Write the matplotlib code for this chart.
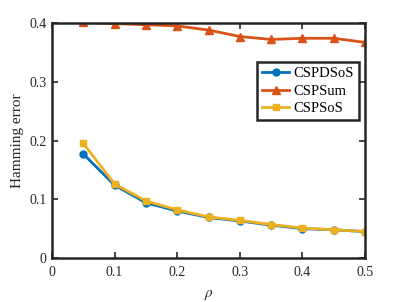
import matplotlib
matplotlib.use("Agg")
import matplotlib.pyplot as plt

rho = [0.05, 0.1, 0.15, 0.2, 0.25, 0.3, 0.35, 0.4, 0.45, 0.5]
cspdsos = [0.177, 0.124, 0.094, 0.080, 0.069, 0.063, 0.056, 0.050, 0.048, 0.045]
cspsum = [0.401, 0.399, 0.397, 0.395, 0.388, 0.377, 0.372, 0.374, 0.374, 0.367]
cspsos = [0.195, 0.126, 0.097, 0.082, 0.070, 0.064, 0.057, 0.051, 0.048, 0.045]
xticks = [0, 0.1, 0.2, 0.3, 0.4, 0.5]
yticks = [0, 0.1, 0.2, 0.3, 0.4]

plt.rcParams['font.family'] = ['Liberation Serif', 'DejaVu Serif']
plt.rcParams['mathtext.fontset'] = 'stix'

fig = plt.figure(figsize=(4.03, 3.02), dpi=100)
ax = fig.add_axes([52/403, 1-258/302, (365-52)/403, (258-23)/302])

ax.plot(rho, cspdsos, color='#0072BD', lw=2, marker='o', ms=5, mfc='#0072BD', label='CSPDSoS')
ax.plot(rho, cspsum, color='#D95319', lw=2, marker='^', ms=6, mfc='#D95319', label='CSPSum')
ax.plot(rho, cspsos, color='#EDB120', lw=2, marker='s', ms=5, mfc='#EDB120', label='CSPSoS')

ax.set_xlim(0, 0.5)
ax.set_ylim(0, 0.4)
ax.set_xticks(xticks)
ax.set_yticks(yticks)
ax.set_xticklabels([f'{t:g}' for t in xticks])
ax.set_yticklabels([f'{t:g}' for t in yticks])
ax.tick_params(direction='in', top=True, right=True, length=4, width=1.2,
               labelsize=10, colors='#262626')
ax.tick_params(axis='x', pad=6)
ax.tick_params(axis='y', pad=4)
for s in ax.spines.values():
    s.set_linewidth(1.8)
    s.set_color('#262626')
ax.set_xlabel(r'$\rho$', fontsize=11, color='#262626', labelpad=6)
ax.set_ylabel('Hamming error', fontsize=11, color='#262626', labelpad=4)

leg = ax.legend(loc='upper right', bbox_to_anchor=(0.98, 0.835), fontsize=10.5,
                fancybox=False, edgecolor='#262626', framealpha=1,
                borderpad=0.35, handlelength=1.9, handletextpad=0.25, labelspacing=0.3,
                borderaxespad=0)
leg.get_frame().set_linewidth(1.8)

fig.savefig('out.png', dpi=100)
